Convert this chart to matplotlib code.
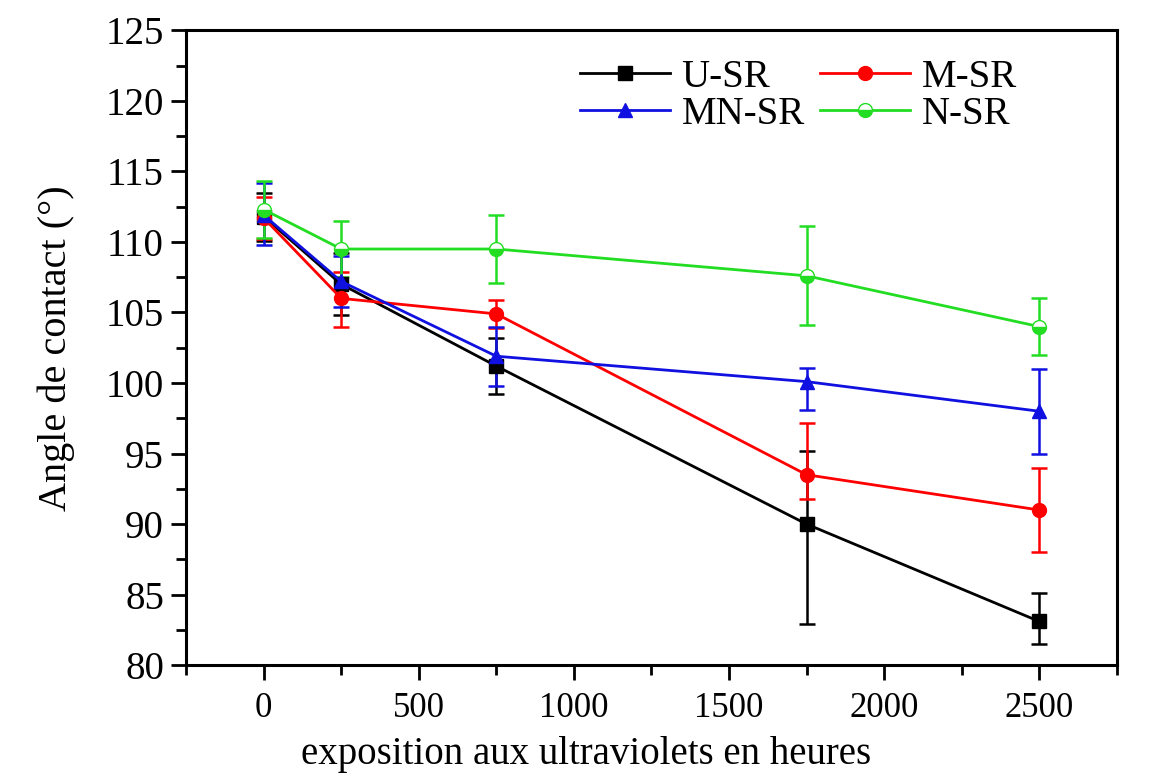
import numpy as np
import matplotlib
matplotlib.use("Agg")
import matplotlib.pyplot as plt
from matplotlib.ticker import MultipleLocator

# ---------- Data ----------
hours = [0, 250, 750, 1750, 2500]

u_sr = [111.8, 107.0, 101.2, 90.0, 83.1]
u_sr_lo = [1.7, 2.2, 2.0, 7.1, 1.6]
u_sr_hi = [1.7, 2.2, 2.0, 5.2, 2.0]

m_sr = [111.7, 106.0, 104.9, 93.5, 91.0]
m_sr_lo = [1.5, 2.0, 1.0, 1.7, 3.0]
m_sr_hi = [1.5, 1.9, 1.0, 3.7, 3.0]

mn_sr = [111.9, 107.2, 101.9, 100.1, 98.0]
mn_sr_lo = [2.1, 1.8, 2.1, 2.0, 3.0]
mn_sr_hi = [2.3, 1.8, 2.1, 1.0, 3.0]

n_sr = [112.3, 109.5, 109.5, 107.6, 104.0]
n_sr_err = [2.0, 2.0, 2.4, 3.5, 2.0]

# ---------- Style ----------
plt.rcParams['font.family'] = ['Liberation Serif', 'DejaVu Serif']

fig = plt.figure(figsize=(11.49, 7.78), dpi=100)
ax = fig.add_axes([0.162, 0.145, 0.810, 0.816])

common = dict(linewidth=2, elinewidth=1.8, capsize=6, capthick=1.8, markersize=10)

ax.errorbar(hours, u_sr, yerr=[u_sr_lo, u_sr_hi], color='black', marker='s',
            label='U-SR', **common)
ax.errorbar(hours, m_sr, yerr=[m_sr_lo, m_sr_hi], color='red', marker='o',
            label='M-SR', **common)
ax.errorbar(hours, mn_sr, yerr=[mn_sr_lo, mn_sr_hi], color='#1010e0', marker='^',
            label='MN-SR', **common)
ax.errorbar(hours, n_sr, yerr=n_sr_err, color='#22dd22', marker='o',
            fillstyle='bottom', markerfacecoloralt='white', markeredgecolor='#22dd22',
            label='N-SR', **common)

ax.set_xlim(-250, 2750)
ax.set_ylim(80, 125)
ax.xaxis.set_major_locator(MultipleLocator(500))
ax.xaxis.set_minor_locator(MultipleLocator(250))
ax.yaxis.set_major_locator(MultipleLocator(5))
ax.yaxis.set_minor_locator(MultipleLocator(2.5))

ax.tick_params(which='both', direction='out', width=2, top=False, right=False)
ax.tick_params(axis='x', labelsize=25, pad=8)
ax.tick_params(axis='y', labelsize=28, pad=5)
ax.tick_params(which='major', length=11)
ax.tick_params(which='minor', length=7)
for s in ax.spines.values():
    s.set_linewidth(2.2)

# x label sits a bit left of centre in the reference
ax.set_xlabel('exposition aux ultraviolets en heures', fontsize=28, labelpad=8, x=0.43)
ax.set_ylabel('Angle de contact (°)', fontsize=29, labelpad=22)

handles, labels = ax.get_legend_handles_labels()
order = [0, 2, 1, 3]
ax.legend([handles[i][0] for i in order], [labels[i] for i in order], ncol=2,
          loc='upper right', frameon=False, fontsize=28, handlelength=2.3,
          columnspacing=0.4, handletextpad=0.3, labelspacing=0.0,
          bbox_to_anchor=(0.93, 1.01))

fig.savefig('out.png', dpi=100)
